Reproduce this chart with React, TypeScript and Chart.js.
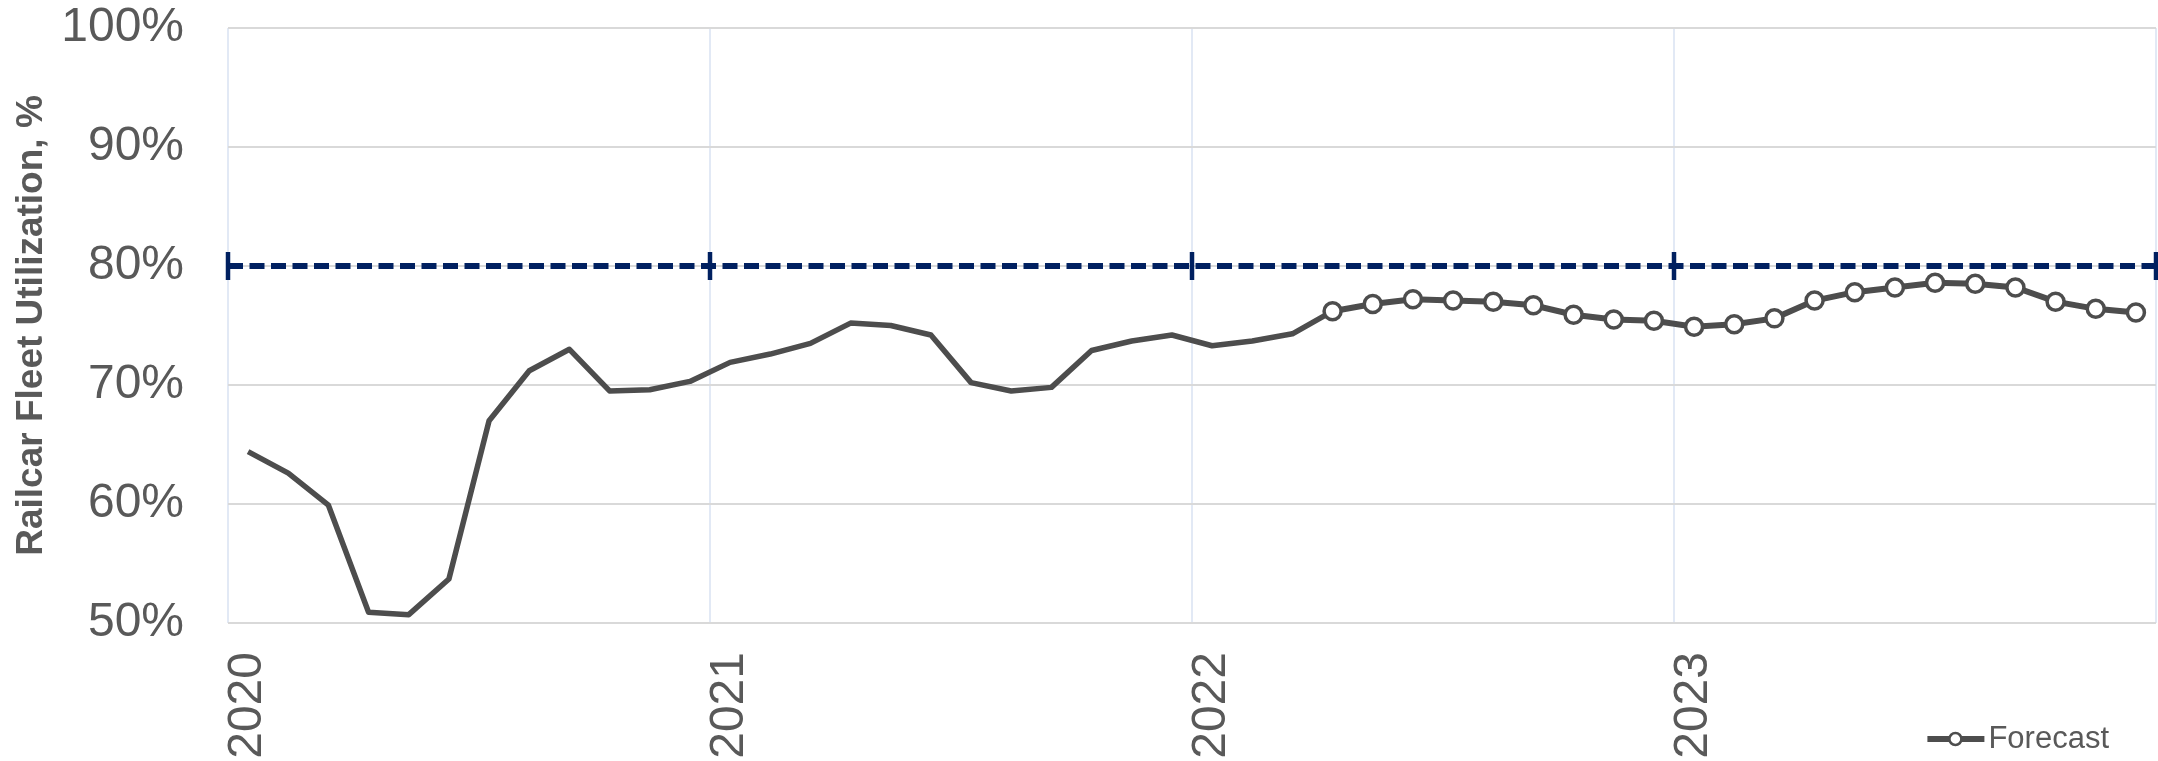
import React, { useEffect, useRef } from "react";
import { Chart, registerables } from "chart.js";

Chart.register(...registerables);

const FONT = "'Liberation Sans', Arial, Helvetica, sans-serif";

const yearLabels = ["2020", "2021", "2022", "2023"];
const monthNames = ["Jan", "Feb", "Mar", "Apr", "May", "Jun", "Jul", "Aug", "Sep", "Oct", "Nov", "Dec"];
const categories = yearLabels.flatMap((y) => monthNames.map((m) => `${m} ${y}`));

// Actual utilization, Jan 2020 .. Apr 2022 (%)
const actualValues = [
  64.4, 62.6, 59.9, 50.9, 50.7, 53.7, 67.0, 71.2, 73.0, 69.5, 69.6, 70.3,
  71.9, 72.6, 73.5, 75.2, 75.0, 74.2, 70.2, 69.5, 69.8, 72.9, 73.7, 74.2,
  73.3, 73.7, 74.3, 76.2,
];
// Forecast, Apr 2022 .. Dec 2023 (%)
const forecastStartIndex = 27;
const forecastValues = [
  76.2, 76.8, 77.2, 77.1, 77.0, 76.7, 75.9, 75.5, 75.4,
  74.9, 75.1, 75.6, 77.1, 77.8, 78.2, 78.6, 78.5, 78.2, 77.0, 76.4, 76.1,
];
// Target utilization line (%), with marks at year boundaries (month positions)
const targetValue = 80;
const targetBoundaries = [0, 12, 24, 36, 48];

const FORECAST_LABEL = "Forecast";

const forecastLegendPlugin = {
  id: "forecastLegend",
  afterDraw(chart: any) {
    const ds = chart.data.datasets.find((d: any) => d.label === FORECAST_LABEL);
    if (!ds) return;
    const ctx = chart.ctx;
    ctx.save();
    ctx.font = `31px ${FONT}`;
    const w = ctx.measureText(ds.label).width;
    const textRight = chart.width - 49;
    const textLeft = textRight - w;
    const y = chart.height - 22;
    ctx.strokeStyle = ds.borderColor;
    ctx.lineWidth = 6;
    ctx.beginPath();
    ctx.moveTo(textLeft - 61, y);
    ctx.lineTo(textLeft - 4, y);
    ctx.stroke();
    ctx.beginPath();
    ctx.arc(textLeft - 33, y, 6, 0, Math.PI * 2);
    ctx.fillStyle = "#ffffff";
    ctx.fill();
    ctx.lineWidth = 2.5;
    ctx.stroke();
    ctx.fillStyle = "#595959";
    ctx.textAlign = "left";
    ctx.textBaseline = "middle";
    ctx.fillText(ds.label, textLeft, y);
    ctx.restore();
  },
};

export default function App() {
  const canvasRef = useRef<HTMLCanvasElement | null>(null);

  useEffect(() => {
    document.body.style.margin = "0";
    document.body.style.overflow = "hidden";
    const canvas = canvasRef.current;
    if (!canvas) return;

    const actualData = categories.map((_, i) => (i < actualValues.length ? actualValues[i] : null));
    const forecastData = categories.map((_, i) =>
      i >= forecastStartIndex && i - forecastStartIndex < forecastValues.length
        ? forecastValues[i - forecastStartIndex]
        : null
    );
    const targetData = targetBoundaries.map((b) => ({ x: b, y: targetValue }));

    const chart = new Chart(canvas, {
      type: "line",
      data: {
        labels: categories,
        datasets: [
          {
            label: FORECAST_LABEL,
            data: forecastData,
            borderColor: "#4D4D4D",
            borderWidth: 6,
            pointRadius: 8.5,
            pointBorderWidth: 3.5,
            pointBackgroundColor: "#ffffff",
            pointBorderColor: "#4D4D4D",
            spanGaps: false,
            tension: 0,
          },
          {
            label: "Actual",
            data: actualData,
            borderColor: "#4D4D4D",
            borderWidth: 5.5,
            pointRadius: 0,
            spanGaps: false,
            tension: 0,
            borderJoinStyle: "round",
          },
          {
            label: "Target",
            data: targetData as any,
            xAxisID: "x2",
            borderColor: "#002060",
            borderWidth: 6,
            borderDash: [15, 6.5],
            pointStyle: "line",
            pointRotation: 90,
            pointRadius: 14,
            pointBorderWidth: 4.5,
            pointBorderColor: "#002060",
            pointBackgroundColor: "#002060",
            clip: false as any,
            tension: 0,
          },
        ],
      },
      options: {
        animation: false,
        responsive: true,
        maintainAspectRatio: false,
        layout: { autoPadding: false, padding: { top: 28, right: 2, left: 0, bottom: 0 } },
        plugins: {
          legend: { display: false },
          tooltip: { enabled: false },
        },
        scales: {
          x: {
            type: "category",
            offset: true,
            border: { display: false },
            grid: {
              offset: true,
              drawTicks: false,
              lineWidth: 2,
              color: (ctx: any) =>
                ctx.type !== "tick" || ctx.index % 12 === 0 ? "#E2E9F5" : "rgba(0,0,0,0)",
            },
            ticks: {
              autoSkip: false,
              maxRotation: 90,
              minRotation: 90,
              padding: 29,
              color: "#595959",
              font: { family: FONT, size: 48 },
              callback: (_v: any, index: number) =>
                index % 12 === 0 ? yearLabels[index / 12] : "",
            },
            afterFit: (scale: any) => {
              scale.height = 138;
              scale.paddingLeft = 0;
              scale.paddingRight = 0;
            },
          },
          x2: {
            type: "linear",
            display: false,
            min: 0,
            max: 48,
          },
          y: {
            min: 50,
            max: 100,
            border: { display: false },
            grid: {
              color: "#D9D9D9",
              lineWidth: 2,
              drawTicks: false,
            },
            ticks: {
              stepSize: 10,
              padding: 44,
              color: "#595959",
              font: { family: FONT, size: 48 },
              callback: (v: any) => `${v}%`,
            },
            title: {
              display: true,
              text: "Railcar Fleet Utilization, %",
              color: "#595959",
              font: { family: FONT, size: 37, weight: "bold" },
              padding: { top: 10, bottom: 0 },
            },
            afterFit: (scale: any) => {
              scale.width = 228;
              scale.paddingTop = 0;
              scale.paddingBottom = 0;
            },
          },
        },
      },
      plugins: [forecastLegendPlugin],
    });

    return () => {
      chart.destroy();
    };
  }, []);

  return (
    <div style={{ width: "2158px", height: "761px", position: "relative" }}>
      <canvas ref={canvasRef} />
    </div>
  );
}
